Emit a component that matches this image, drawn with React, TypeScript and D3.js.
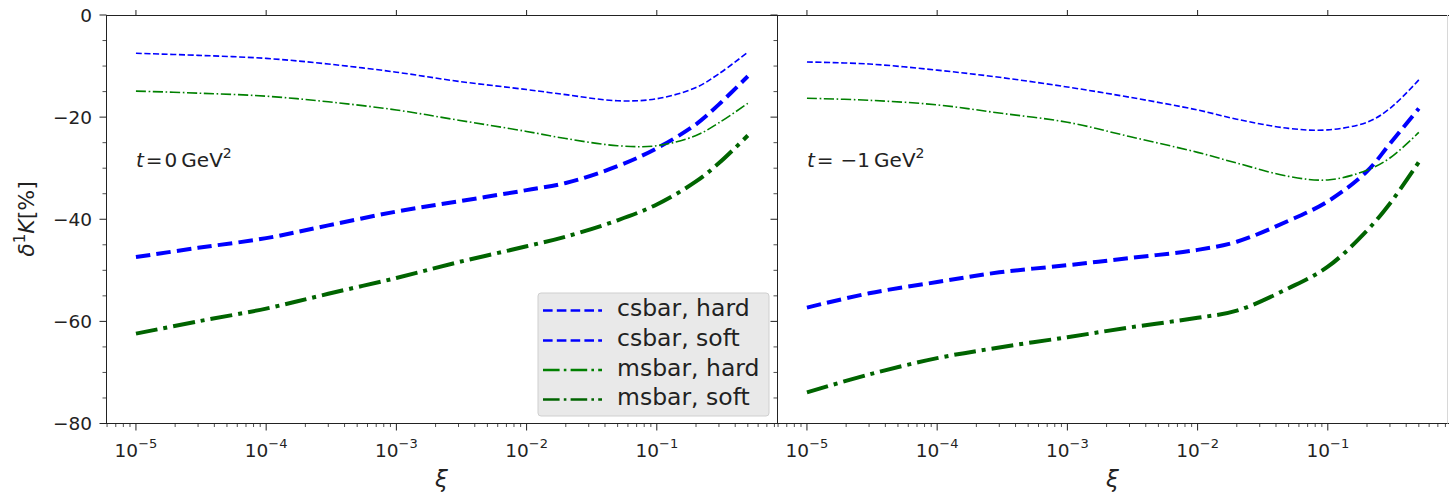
import React from 'react';
import * as d3 from 'd3';

// ---------------- data ----------------
const XI = [1e-5, 3e-5, 1e-4, 3e-4, 1e-3, 3e-3, 1e-2, 2e-2, 5e-2, 0.1, 0.2, 0.3, 0.5];

// t = 0 GeV^2
const csbarHard0 = [-7.5, -7.9, -8.5, -9.6, -11.2, -13.0, -14.6, -15.6, -16.8, -16.4, -14.2, -11.5, -7.3];
const csbarSoft0 = [-47.4, -45.6, -43.7, -41.2, -38.5, -36.5, -34.3, -32.9, -29.6, -26.1, -21.4, -17.5, -12.0];
const msbarHard0 = [-14.9, -15.3, -15.9, -17.0, -18.6, -20.6, -22.8, -24.2, -25.6, -25.6, -23.6, -21.1, -17.3];
const msbarSoft0 = [-62.4, -60.0, -57.5, -54.6, -51.5, -48.4, -45.3, -43.4, -40.2, -37.1, -32.6, -29.0, -23.6];

// t = -1 GeV^2
const csbarHard1 = [-9.2, -9.6, -10.8, -12.2, -14.1, -16.1, -18.6, -20.4, -22.2, -22.5, -21.0, -18.3, -12.7];
const csbarSoft1 = [-57.3, -54.5, -52.3, -50.4, -49.0, -47.6, -46.0, -44.4, -40.3, -36.5, -30.6, -25.2, -18.3];
const msbarHard1 = [-16.3, -16.7, -17.6, -19.2, -21.0, -23.8, -26.9, -29.0, -31.6, -32.3, -30.4, -28.0, -23.0];
const msbarSoft1 = [-73.9, -70.4, -67.2, -65.1, -63.1, -61.2, -59.3, -57.9, -53.5, -49.3, -42.2, -36.9, -28.8];

const SERIES_LABELS = ['csbar, hard', 'csbar, soft', 'msbar, hard', 'msbar, soft'];
const PANEL_LABELS = [
  { t: '0' },
  { t: '\u22121' },
];

const X_MAJOR = [1e-5, 1e-4, 1e-3, 1e-2, 1e-1];
const X_MAJOR_EXP = ['\u22125', '\u22124', '\u22123', '\u22122', '\u22121'];
const Y_MAJOR = [0, -20, -40, -60, -80];
const Y_MAJOR_LABELS = ['0', '\u221220', '\u221240', '\u221260', '\u221280'];

// ---------------- styles ----------------
const FONT = 'DejaVu Sans, sans-serif';
const styles = [
  { color: '#0000ff', width: 1.6, dash: '6,2.6' },
  { color: '#0000ff', width: 4, dash: '14.5,6.2' },
  { color: '#008000', width: 1.6, dash: '10.2,2.6,1.6,2.6' },
  { color: '#006400', width: 4, dash: '22,6,4,6' },
];
const legendDash = ['9.6,4.2', '9.6,4.2', '16.6,4.2,2.6,4.2', '16.6,4.2,2.6,4.2'];

const W = 1449;
const H = 495;
const TOP = 15;
const BOTTOM = 423.5;
const LOGMIN = -5.23;
const LOGMAX = -0.077;

const yScale = d3.scaleLinear().domain([-80, 0]).range([BOTTOM, TOP]);

const minorX: number[] = [];
for (let e = -6; e <= -1; e++) {
  for (let m = 2; m <= 9; m++) {
    const v = m * Math.pow(10, e);
    if (Math.log10(v) > LOGMIN && Math.log10(v) < LOGMAX) minorX.push(v);
  }
}
const minorY: number[] = d3.range(-75, 0, 5).filter((v) => v % 20 !== 0);

function Panel({ x0, x1, data, label, isLeft }: any) {
  const xScale = d3.scaleLog().domain([Math.pow(10, LOGMIN), Math.pow(10, LOGMAX)]).range([x0, x1]);
  const line = d3
    .line<number>()
    .x((_, i) => xScale(XI[i]))
    .y((d) => yScale(d))
    .curve(d3.curveCatmullRom.alpha(0.5));
  const sx = Math.round(x0) + 0.5;
  return (
    <g>
      {/* curves */}
      {data.map((vals: number[], k: number) => (
        <path
          key={k}
          d={line(vals) || ''}
          fill="none"
          stroke={styles[k].color}
          strokeWidth={styles[k].width}
          strokeDasharray={styles[k].dash}
        />
      ))}
      {/* spines */}
      <line x1={x0} x2={x1 + (isLeft ? 0 : 1)} y1={TOP + 0.5} y2={TOP + 0.5} stroke="#222" strokeWidth={1} />
      <line x1={x0} x2={x1 + (isLeft ? 0 : 1)} y1={BOTTOM} y2={BOTTOM} stroke="#222" strokeWidth={1} />
      <line x1={sx} x2={sx} y1={TOP} y2={BOTTOM} stroke="#222" strokeWidth={1} />
      {!isLeft && <line x1={x1 - 0.5} x2={x1 - 0.5} y1={TOP} y2={BOTTOM} stroke="#d8d8d8" strokeWidth={1} />}
      {/* y ticks */}
      {Y_MAJOR.map((v) => (
        <line key={'ym' + v} x1={sx - 7} x2={sx} y1={yScale(v)} y2={yScale(v)} stroke="#222" strokeWidth={1} />
      ))}
      {minorY.map((v) => (
        <line key={'yn' + v} x1={sx - 4} x2={sx} y1={yScale(v)} y2={yScale(v)} stroke="#222" strokeWidth={0.8} />
      ))}
      {isLeft &&
        Y_MAJOR.map((v, i) => (
          <text key={'yl' + v} x={92} y={yScale(v)} dy="0.36em" textAnchor="end" fontSize={18.5} fontFamily={FONT} fill="#222">
            {Y_MAJOR_LABELS[i]}
          </text>
        ))}
      {/* x ticks */}
      {X_MAJOR.map((v, i) => (
        <g key={'xm' + v}>
          <line x1={xScale(v)} x2={xScale(v)} y1={BOTTOM} y2={BOTTOM + 7} stroke="#222" strokeWidth={1} />
          <line x1={xScale(v)} x2={xScale(v)} y1={TOP} y2={TOP - 5} stroke="#222" strokeWidth={1} />
          <text x={xScale(v)} y={457} textAnchor="middle" fontSize={18.5} fontFamily={FONT} fill="#222">
            10
            <tspan fontSize={13} dy={-9}>
              {X_MAJOR_EXP[i]}
            </tspan>
          </text>
        </g>
      ))}
      {minorX.map((v) => (
        <line key={'xn' + v} x1={xScale(v)} x2={xScale(v)} y1={BOTTOM} y2={BOTTOM + 3.5} stroke="#222" strokeWidth={0.8} />
      ))}
      {/* x label */}
      <text x={(x0 + x1) / 2} y={487} textAnchor="middle" fontSize={23} fontStyle="italic" fontFamily={FONT} fill="#222">
        ξ
      </text>
      {/* annotation */}
      <text x={x0 + 30} y={167} fontSize={20} fontFamily={FONT} fill="#222">
        <tspan fontStyle="italic">t</tspan>
        <tspan dx={2}>=</tspan>
        <tspan dx={isLeft ? 2 : 7}>{label.t}</tspan>
        <tspan dx={4}>GeV</tspan>
        <tspan fontSize={14} dy={-9}>
          2
        </tspan>
      </text>
    </g>
  );
}

function Legend() {
  const bx = 538;
  const by = 293;
  const rows = [316, 346, 375.5, 405];
  return (
    <g>
      <rect x={bx} y={by} width={231} height={123} rx={3} fill="#e9e9e9" stroke="#cfcfcf" strokeWidth={1} />
      {SERIES_LABELS.map((s, i) => (
        <g key={s}>
          <line
            x1={543}
            x2={602}
            y1={rows[i] - 5.5}
            y2={rows[i] - 5.5}
            stroke={styles[i].color}
            strokeWidth={2.6}
            strokeDasharray={legendDash[i]}
          />
          <text x={617} y={rows[i]} fontSize={23.5} fontFamily={FONT} fill="#222">
            {s}
          </text>
        </g>
      ))}
    </g>
  );
}

export default function App() {
  return (
    <svg width={W} height={H} style={{ position: 'absolute', left: 0, top: 0, background: '#fff' }}>
      <rect x={0} y={0} width={W} height={H} fill="#fff" />
      <Panel x0={106} x1={777} isLeft={true} label={PANEL_LABELS[0]} data={[csbarHard0, csbarSoft0, msbarHard0, msbarSoft0]} />
      <Panel x0={777} x1={1448} isLeft={false} label={PANEL_LABELS[1]} data={[csbarHard1, csbarSoft1, msbarHard1, msbarSoft1]} />
      <Legend />
      <text transform="translate(34,219) rotate(-90)" textAnchor="middle" fontSize={22} fontFamily={FONT} fill="#222">
        <tspan fontStyle="italic">δ</tspan>
        <tspan fontSize={15} dy={-9}>
          1
        </tspan>
        <tspan fontStyle="italic" dy={9}>
          K
        </tspan>
        <tspan>[%]</tspan>
      </text>
    </svg>
  );
}
